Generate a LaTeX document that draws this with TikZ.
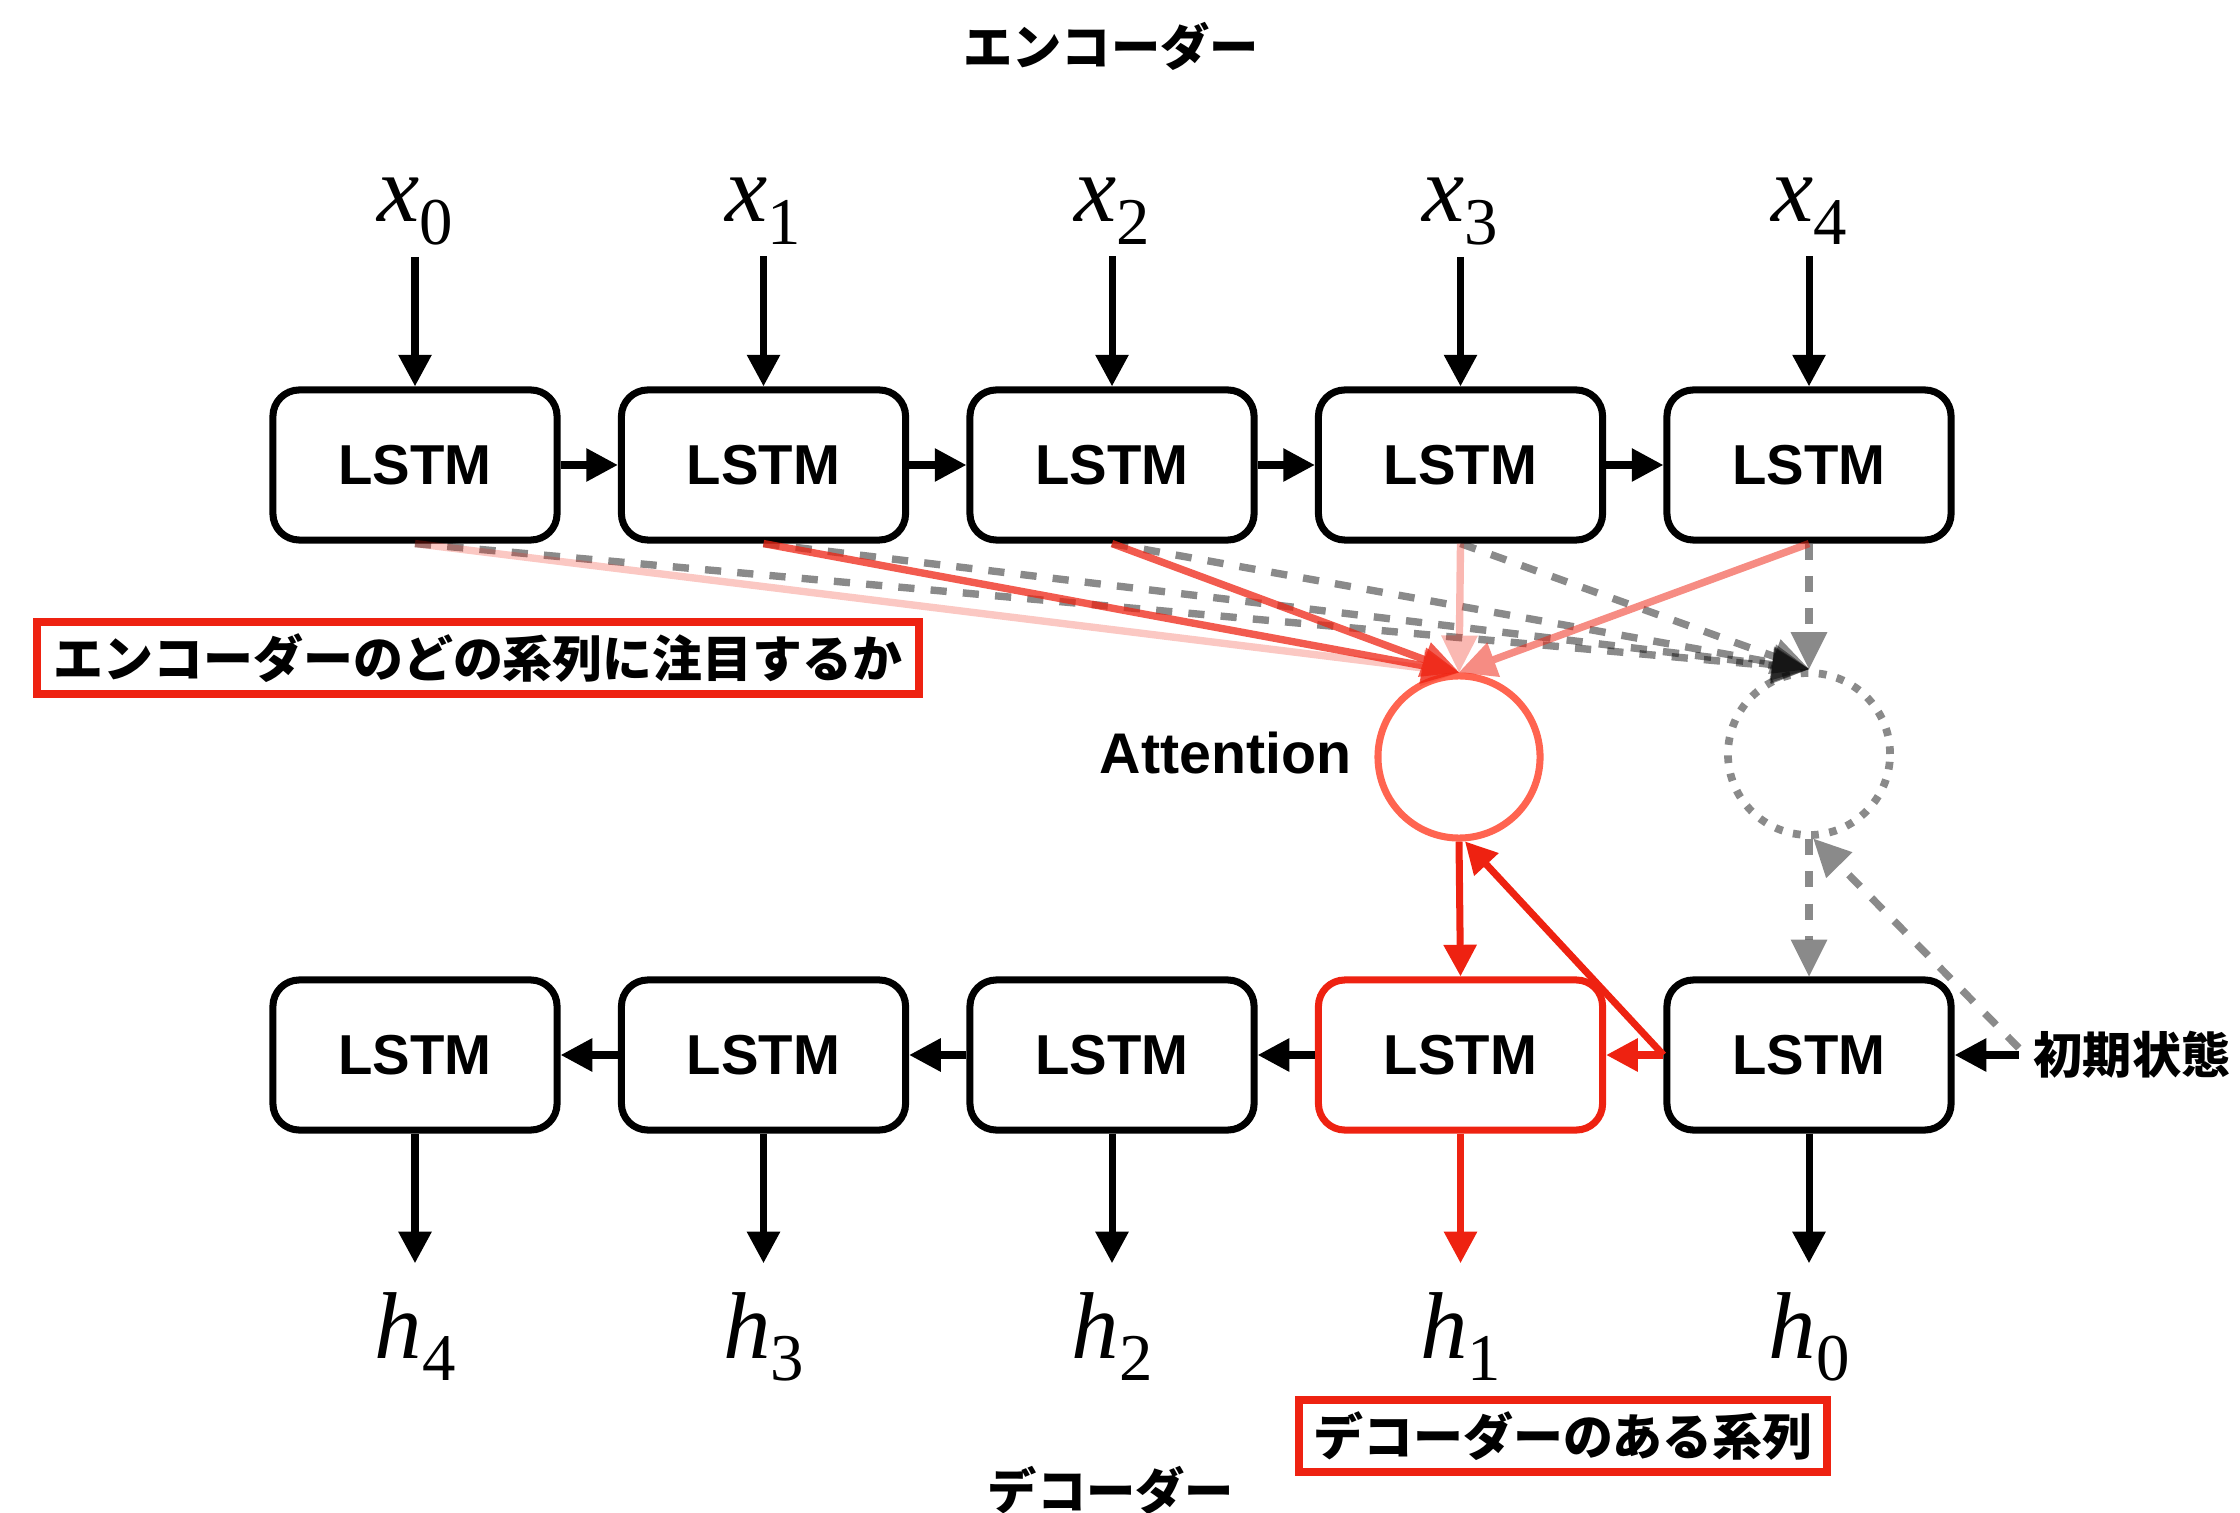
\documentclass[tikz,border=0pt]{standalone}
\usepackage{fontspec}
\usetikzlibrary{arrows.meta}
\newfontfamily\jpfont{Noto Sans CJK JP}
\newfontfamily\helfont{Liberation Sans}
\newfontfamily\tmsfont{Liberation Serif}
\definecolor{myred}{RGB}{238,34,17}
\definecolor{attred}{RGB}{255,100,80}
\newcommand{\seqlabel}[2]{{\tmsfont\itshape\fontsize{27}{27}\selectfont #1}{\tmsfont\fontsize{19}{19}\selectfont\raisebox{-6.5pt}{#2}}}
\begin{document}
\begin{tikzpicture}[x=0.01cm,y=-0.01cm,
  lstm/.style={draw, line width=2pt, rounded corners=7.5pt, fill=white, minimum width=2.84cm, minimum height=1.5cm, inner sep=0pt, font=\helfont\bfseries\fontsize{16}{16}\selectfont},
  arr/.style={line width=2pt, -{Triangle[length=9pt,width=9pt]}},
  tarr/.style={line width=2.1pt, -{Triangle[length=10.5pt,width=10.5pt,line width=0pt]}},
  gdash/.style={tarr, black, opacity=0.46, dash pattern=on 4.6pt off 4.6pt},
  redbox/.style={draw=myred, line width=2.3pt, minimum height=0.72cm, inner sep=0pt, font=\jpfont\bfseries\fontsize{14.2}{14.2}\selectfont},
  jp/.style={font=\jpfont\bfseries\fontsize{14}{14}\selectfont, inner sep=0pt},
  seq/.style={anchor=base, inner sep=0pt}]
\path[use as bounding box] (0,0) rectangle (2240,1513);

% titles
\node[jp] (enc) at (1111,46) {エンコーダー};
\node[jp] (dec) at (1111,1490) {デコーダー};

% encoder
\foreach \i/\x in {0/415,1/763.5,2/1112,3/1460.5,4/1809}{
  \node[lstm] (e\i) at (\x,465) {LSTM};
  \node[seq] (xl\i) at (\x,222) {\seqlabel{x}{\i}};
  \draw[arr, shorten <=3pt] (e\i.north |- xl\i.south) -- (e\i.north);
}
\foreach \a/\b in {0/1,1/2,2/3,3/4}{
  \draw[arr] (e\a.east) -- (e\b.west);
}

% decoder
\node[lstm] (dh4) at (415,1055) {LSTM};
\node[lstm] (dh3) at (763.5,1055) {LSTM};
\node[lstm] (dh2) at (1112,1055) {LSTM};
\node[lstm, draw=myred] (dh1) at (1460.5,1055) {LSTM};
\node[lstm] (dh0) at (1809,1055) {LSTM};
\foreach \i/\x in {4/415,3/763.5,2/1112,1/1460.5,0/1809}{
  \node[seq] (hl\i) at (\x,1358) {\seqlabel{h}{\i}};
}
\foreach \i in {4,3,2,0}{
  \draw[arr, shorten >=8pt] (dh\i.south) -- (dh\i.south |- hl\i.north);
}
\draw[arr, myred, shorten >=8pt] (dh1.south) -- (dh1.south |- hl1.north);
\draw[arr] (dh1.west) -- (dh2.east);
\draw[arr] (dh2.west) -- (dh3.east);
\draw[arr] (dh3.west) -- (dh4.east);
\draw[arr, myred] (dh0.west) -- (dh1.east);

% attention
\node[draw=attred, line width=2pt, circle, minimum size=1.62cm, inner sep=0pt] (att) at (1459,757) {};
\node[anchor=east, inner sep=0pt, font=\helfont\bfseries\fontsize{16.3}{16.3}\selectfont] (attl) at (1352,753) {Attention};
\node[draw=black, draw opacity=0.46, line width=2.2pt, dash pattern=on 2.2pt off 3pt, circle, minimum size=1.62cm, inner sep=0pt] (gc) at (1809,754) {};

% gray dashed encoder -> gray circle
\foreach \i in {0,...,4}{
  \draw[gdash] (e\i.south) -- (gc.north);
}
% encoder -> attention
\draw[tarr, myred, opacity=0.25] (e0.south) -- (att.north);
\draw[tarr, myred, opacity=0.74] (e1.south) -- (att.north);
\draw[tarr, myred, opacity=0.74] (e2.south) -- (att.north);
\draw[tarr, myred, opacity=0.32] (e3.south) -- (att.north);
\draw[tarr, myred, opacity=0.52] (e4.south) -- (att.north);

% attention <-> decoder
\draw[arr, myred] (att.south) -- (dh1.north);
\draw[arr, myred] (dh0.west) -- (att.-86);

% initial state
\node[jp, inner sep=4pt] (init) at (2132,1055) {初期状態};
\draw[arr] (init.west) -- (dh0.east);
\draw[gdash] ([yshift=2pt]init.west) -- (gc.-87);
\draw[gdash] (gc.south) -- (dh0.north);

% annotation boxes
\node[redbox, minimum width=8.82cm] (q1) at (478,658) {エンコーダーのどの系列に注目するか};
\node[redbox, minimum width=5.28cm] (q2) at (1563,1436) {デコーダーのある系列};
\end{tikzpicture}
\end{document}
